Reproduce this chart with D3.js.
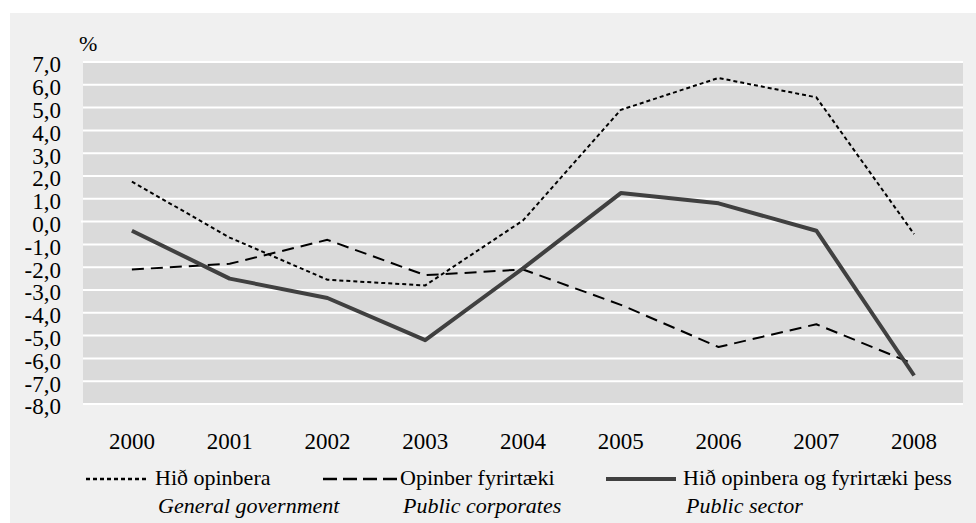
<!DOCTYPE html>
<html>
<head>
<meta charset="utf-8">
<script src="https://cdn.jsdelivr.net/npm/d3@7"></script>
</head>
<body style="margin:0;padding:0;background:#ffffff">
<svg id="chart" width="976" height="523" style="display:block"></svg>
<script>
// ---- data ----
const years = ["2000","2001","2002","2003","2004","2005","2006","2007","2008"];
const generalGovernment = [1.75, -0.7, -2.55, -2.8, 0.05, 4.9, 6.3, 5.45, -0.55];
const publicCorporates  = [-2.1, -1.85, -0.8, -2.35, -2.1, -3.65, -5.5, -4.5, -6.25];
const publicSector      = [-0.4, -2.5, -3.35, -5.2, -2.05, 1.25, 0.8, -0.4, -6.75];
const yTicks = [7, 6, 5, 4, 3, 2, 1, 0, -1, -2, -3, -4, -5, -6, -7, -8];
const seriesNames = ["Hið opinbera", "Opinber fyrirtæki", "Hið opinbera og fyrirtæki þess"];
const seriesNamesEn = ["General government", "Public corporates", "Public sector"];
const unitLabel = "%";

// ---- layout ----
const FONT = "'Liberation Serif', 'Times New Roman', Tinos, serif";
const svg = d3.select("#chart");
const plot = { left: 83, right: 963, top: 62, bottom: 404 };

svg.append("rect").attr("x", 10).attr("y", 13).attr("width", 966).attr("height", 510).attr("fill", "#f0f0f0");

const x = d3.scaleBand().domain(years).range([plot.left, plot.right]).padding(0);
const y = d3.scaleLinear().domain([-8, 7]).range([plot.bottom, plot.top]);

const locale = d3.formatLocale({ decimal: ",", thousands: ".", grouping: [3], currency: ["", ""], minus: "-" });
const fmt = locale.format(".1f");

svg.append("rect")
  .attr("x", plot.left).attr("y", plot.top)
  .attr("width", plot.right - plot.left).attr("height", plot.bottom - plot.top)
  .attr("fill", "#dadada");

// gridlines
svg.append("g").selectAll("line").data(yTicks).join("line")
  .attr("x1", d => d === 0 ? plot.left - 2 : plot.left)
  .attr("x2", plot.right)
  .attr("y1", d => y(d)).attr("y2", d => y(d))
  .attr("stroke", "#ffffff").attr("stroke-width", 2);

// y axis labels
const yAxis = d3.axisLeft(y).tickValues(yTicks).tickFormat(fmt).tickSize(0).tickPadding(22);
const gy = svg.append("g").attr("transform", `translate(${plot.left},0)`).call(yAxis);
gy.attr("font-family", FONT);
gy.select(".domain").remove();
gy.selectAll("text")
  .style("font-family", FONT).style("font-size", "23px")
  .attr("fill", "#000").attr("dy", "0.43em");

// x axis labels
const xAxis = d3.axisBottom(x).tickSize(0).tickPadding(29);
const gx = svg.append("g").attr("transform", `translate(0,${plot.bottom})`).call(xAxis);
gx.attr("font-family", FONT);
gx.select(".domain").remove();
gx.selectAll("text")
  .style("font-family", FONT).style("font-size", "23px")
  .attr("fill", "#000");

// unit label
svg.append("text").attr("x", 79).attr("y", 51)
  .style("font-family", FONT).style("font-size", "22px").text(unitLabel);

// lines
const line = d3.line().x((d, i) => x(years[i]) + x.bandwidth() / 2).y(d => y(d));
const styles = [
  { data: generalGovernment, stroke: "#000000", width: 2, dash: "4,3" },
  { data: publicCorporates, stroke: "#000000", width: 2, dash: "12,7" },
  { data: publicSector, stroke: "#404040", width: 4, dash: null }
];
styles.forEach(s => {
  svg.append("path").datum(s.data)
    .attr("d", line)
    .attr("fill", "none")
    .attr("stroke", s.stroke)
    .attr("stroke-width", s.width)
    .attr("stroke-dasharray", s.dash)
    .attr("stroke-linejoin", "round");
});

// legend
const legendPos = [
  { x1: 86, x2: 146, tx: 155 },
  { x1: 323, x2: 397, tx: 400 },
  { x1: 606, x2: 676, tx: 683 }
];
const legendStyleDash = ["4,3", "14,6", null];
legendPos.forEach((p, i) => {
  const s = styles[i];
  svg.append("line")
    .attr("x1", p.x1).attr("x2", p.x2).attr("y1", 479).attr("y2", 479)
    .attr("stroke", s.stroke).attr("stroke-width", s.width === 2 ? 2.5 : s.width)
    .attr("stroke-dasharray", legendStyleDash[i]);
  svg.append("text").attr("x", p.tx).attr("y", 485)
    .style("font-family", FONT).style("font-size", "22px").text(seriesNames[i]);
  svg.append("text").attr("x", p.tx + 3).attr("y", 513)
    .style("font-family", FONT).style("font-size", "22px")
    .style("font-style", "italic").text(seriesNamesEn[i]);
});
</script>
</body>
</html>
